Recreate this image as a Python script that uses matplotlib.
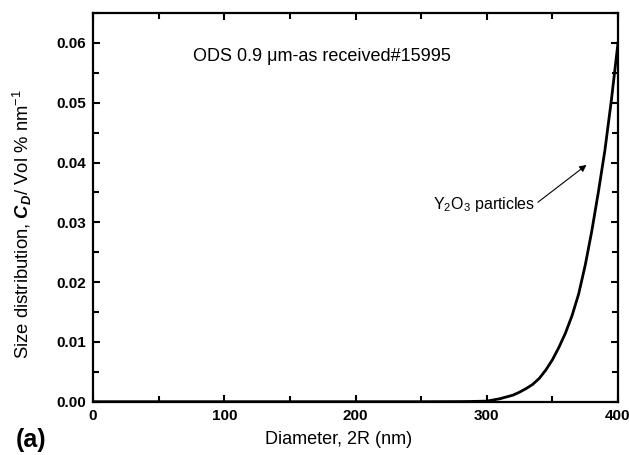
import matplotlib
matplotlib.use("Agg")
import matplotlib.pyplot as plt
from matplotlib.ticker import MultipleLocator, FormatStrFormatter

plt.rcParams['font.family'] = ['Liberation Sans', 'DejaVu Sans']
plt.rcParams['mathtext.fontset'] = 'custom'
plt.rcParams['mathtext.rm'] = 'Liberation Sans'
plt.rcParams['mathtext.it'] = 'Liberation Sans:italic'
plt.rcParams['mathtext.bf'] = 'Liberation Sans:bold'
plt.rcParams['mathtext.bfit'] = 'Liberation Sans:bold:italic'

# Data
diameter = [0, 250, 280, 290, 300, 310, 320, 325, 330, 335, 340, 345, 350, 355, 360, 365, 370,
            375, 380, 385, 390, 395, 400]
size_dist = [0, 0, 0.00002, 0.00005, 0.0001, 0.0005, 0.0011, 0.0016, 0.0022, 0.0029, 0.0039, 0.0053,
             0.0070, 0.0091, 0.0115, 0.0144, 0.0180, 0.0228, 0.0285, 0.0350, 0.0420, 0.0505, 0.0600]

title_text = "ODS 0.9 \u03bcm-as received#15995"
annot_text = r"Y$_2$O$_3$ particles"

fig = plt.figure(figsize=(6.29, 4.55), dpi=100)
ax = fig.add_axes([0.1479, 0.1171, 0.8346, 0.8543])

ax.plot(diameter, size_dist, color='black', lw=2.0)

ax.set_xlim(0, 400)
ax.set_ylim(0, 0.065)
ax.xaxis.set_major_locator(MultipleLocator(100))
ax.xaxis.set_minor_locator(MultipleLocator(50))
ax.yaxis.set_major_locator(MultipleLocator(0.01))
ax.yaxis.set_minor_locator(MultipleLocator(0.005))
ax.yaxis.set_major_formatter(FormatStrFormatter('%.2f'))

ax.tick_params(which='both', direction='in', top=True, right=True, width=1.5)
ax.tick_params(which='major', length=5, labelsize=11, pad=5)
ax.tick_params(which='minor', length=4)
for lab in ax.get_xticklabels() + ax.get_yticklabels():
    lab.set_fontweight('bold')
for sp in ax.spines.values():
    sp.set_linewidth(1.6)

ax.set_xlabel("Diameter, 2R (nm)", fontsize=13)
ax.xaxis.set_label_coords(0.467, -0.075)
ax.set_ylabel(r"Size distribution, $\mathbfit{C}_{\mathbfit{D}}$/ Vol % nm$^{-1}$", fontsize=13.3)
ax.yaxis.set_label_coords(-0.113, 0.457)

ax.text(76, 0.0578, title_text, fontsize=13, va='center', ha='left')
ax.annotate(annot_text, xy=(376, 0.0396), xytext=(259, 0.0330),
            fontsize=11.5, va='center', ha='left',
            arrowprops=dict(arrowstyle='-|>', color='black', lw=0.8,
                            mutation_scale=10, shrinkA=0, shrinkB=0,
                            relpos=(1.0, 0.5)))

fig.text(0.025, 0.033, "(a)", fontsize=18, fontweight='bold', va='center', ha='left')

fig.savefig("out.png", dpi=100)
